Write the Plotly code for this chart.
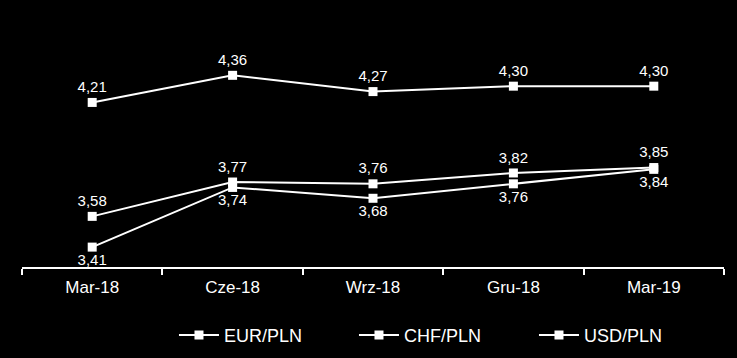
import plotly.graph_objects as go

categories = ["Mar-18", "Cze-18", "Wrz-18", "Gru-18", "Mar-19"]
eur = [4.21, 4.36, 4.27, 4.30, 4.30]
chf = [3.58, 3.77, 3.76, 3.82, 3.85]
usd = [3.41, 3.74, 3.68, 3.76, 3.84]

def fmt(v):
    return f"{v:.2f}".replace(".", ",")

FONT = "Liberation Sans"
fig = go.Figure()
for name, vals, pos in [("EUR/PLN", eur, "top center"),
                        ("CHF/PLN", chf, "top center"),
                        ("USD/PLN", usd, "bottom center")]:
    fig.add_trace(go.Scatter(
        x=categories, y=vals, name=name, mode="lines+markers+text",
        text=[fmt(v) for v in vals], textposition=pos,
        textfont=dict(color="white", size=15, family=FONT),
        line=dict(color="white", width=2),
        marker=dict(symbol="square", size=9, color="white"),
        cliponaxis=False,
    ))

fig.update_layout(
    width=737, height=358,
    paper_bgcolor="black", plot_bgcolor="black",
    margin=dict(l=22, r=13, t=50, b=91, autoexpand=False),
    font=dict(color="white", family=FONT, size=15),
    showlegend=True,
    legend=dict(orientation="h", x=0.2165, xanchor="left", y=-0.315, yanchor="middle",
                font=dict(size=18, color="white", family=FONT),
                itemwidth=40,
                entrywidth=125, entrywidthmode="pixels"),
    xaxis=dict(type="category", range=[-0.5, 4.5], showgrid=False, showline=True,
               linecolor="white", linewidth=1.5, ticks="outside", tickson="boundaries",
               ticklen=6, tickcolor="white", tickwidth=1.5, ticklabelstandoff=4,
               tickfont=dict(size=17, color="white", family=FONT),
               zeroline=False),
    yaxis=dict(range=[3.3, 4.5], visible=False, showgrid=False, zeroline=False),
)

fig.write_html("out.html", config={"displayModeBar": False},
               post_script="document.body.style.margin='0';document.body.style.background='black';")
